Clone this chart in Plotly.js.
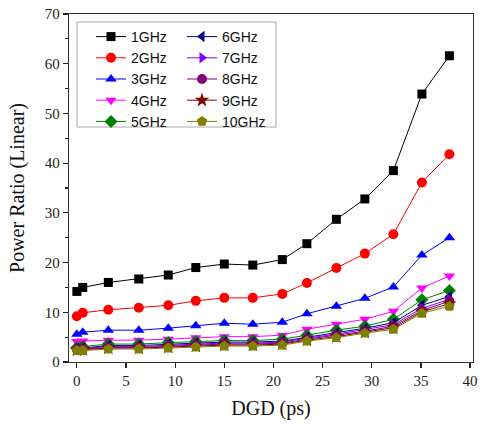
<!DOCTYPE html>
<html><head><meta charset="utf-8">
<script src="https://cdn.plot.ly/plotly-3.0.1.min.js"></script>
<style>html,body{margin:0;padding:0;background:#fff}#chart{width:480px;height:424px}</style>
</head><body><div id="chart"></div>
<script>
const dgd = [0, 0.6, 3.2, 6.3, 9.3, 12.1, 15.0, 17.9, 20.9, 23.4, 26.4, 29.3, 32.2, 35.1, 37.9];
const seriesNames = ['1GHz','2GHz','3GHz','4GHz','5GHz','6GHz','7GHz','8GHz','9GHz','10GHz'];
const s1GHz  = [14.2, 15.0, 16.0, 16.7, 17.5, 19.0, 19.7, 19.5, 20.6, 23.8, 28.7, 32.8, 38.5, 53.9, 61.6];
const s2GHz  = [9.2, 9.9, 10.5, 10.9, 11.4, 12.3, 12.9, 12.9, 13.7, 15.9, 18.9, 21.8, 25.7, 36.1, 41.8];
const s3GHz  = [5.6, 6.0, 6.4, 6.4, 6.8, 7.3, 7.8, 7.6, 8.0, 9.7, 11.2, 12.8, 15.1, 21.5, 25.0];
const s4GHz  = [4.1, 4.2, 4.4, 4.4, 4.6, 4.9, 5.1, 5.1, 5.4, 6.6, 7.6, 8.6, 10.2, 14.9, 17.3];
const s5GHz  = [2.9, 3.1, 3.6, 3.6, 3.9, 4.1, 4.3, 4.3, 4.6, 5.4, 6.4, 7.2, 8.6, 12.5, 14.4];
const s6GHz  = [2.7, 2.8, 3.3, 3.3, 3.6, 3.8, 4.0, 4.0, 4.2, 5.0, 5.9, 6.8, 7.9, 11.4, 13.2];
const s7GHz  = [2.6, 2.7, 3.1, 3.1, 3.4, 3.6, 3.8, 3.8, 4.0, 4.8, 5.6, 6.5, 7.5, 10.8, 12.6];
const s8GHz  = [2.5, 2.6, 2.9, 2.9, 3.2, 3.4, 3.6, 3.6, 3.8, 4.6, 5.4, 6.2, 7.2, 10.4, 12.2];
const s9GHz  = [2.4, 2.5, 2.8, 2.8, 3.0, 3.2, 3.4, 3.4, 3.6, 4.4, 5.1, 6.0, 6.9, 10.1, 11.7];
const s10GHz = [2.3, 2.3, 2.6, 2.6, 2.8, 3.0, 3.2, 3.2, 3.4, 4.2, 4.9, 5.8, 6.6, 9.8, 11.2];
const xTicks = [0, 5, 10, 15, 20, 25, 30, 35, 40];
const yTicks = [0, 10, 20, 30, 40, 50, 60, 70];

const allValues = [s1GHz, s2GHz, s3GHz, s4GHz, s5GHz, s6GHz, s7GHz, s8GHz, s9GHz, s10GHz];
const colors = ['#000000','#ff0000','#0000ff','#ff00ff','#008000','#000080','#8000ff','#800080','#800000','#808000'];
const symbols = ['square','circle','triangle-up','triangle-down','diamond','triangle-left','triangle-right','circle','star','pentagon'];
const sizes = [9,10,10,10,10,10,10,10,11,11];

const traces = allValues.map((v, i) => ({
  x: dgd, y: v, name: seriesNames[i], type: 'scatter', mode: 'lines+markers',
  line: {color: colors[i], width: 1},
  marker: {symbol: symbols[i], color: colors[i], size: sizes[i], line: {width: 0}},
  legend: i < 5 ? 'legend' : 'legend2'
}));

const L = 69, R = 473, T = 14, B = 362;
const px = x => (x - L) / (R - L);
const py = y => 1 - (y - T) / (B - T);
const legFont = {family: 'Liberation Sans, Arial, sans-serif', size: 14, color: '#111'};
const serif = 'Liberation Serif, Times New Roman, serif';

const layout = {
  width: 480, height: 424,
  margin: {l: L, r: 480 - R, t: T, b: 424 - B},
  paper_bgcolor: '#fff', plot_bgcolor: '#fff',
  showlegend: true,
  font: {family: serif, size: 15, color: '#222'},
  xaxis: {
    range: [-0.8, 40.3], tickvals: xTicks, ticks: 'outside', ticklen: 5, tickwidth: 1.2,
    tickcolor: '#222', showline: true, linecolor: '#333', linewidth: 1.2, mirror: true,
    showgrid: false, zeroline: false,
    tickfont: {family: serif, size: 15, color: '#222'},
    title: {text: 'DGD (ps)', font: {family: serif, size: 20, color: '#111'}, standoff: 12}
  },
  yaxis: {
    range: [0, 70], tickvals: yTicks, ticks: 'outside', ticklen: 5, tickwidth: 1.2,
    tickcolor: '#222', showline: true, linecolor: '#333', linewidth: 1.2, mirror: true,
    showgrid: false, zeroline: false,
    minor: {dtick: 5, ticks: 'outside', ticklen: 3, tickcolor: '#222', showgrid: false},
    tickfont: {family: serif, size: 15, color: '#222'},
    title: {text: 'Power Ratio (Linear)', font: {family: serif, size: 20, color: '#111'}, standoff: 14}
  },
  legend: {x: px(91), y: py(21), xanchor: 'left', yanchor: 'top', bgcolor: 'rgba(0,0,0,0)',
    borderwidth: 0, font: legFont, itemwidth: 30, tracegroupgap: 0},
  legend2: {x: px(182), y: py(21), xanchor: 'left', yanchor: 'top', bgcolor: 'rgba(0,0,0,0)',
    borderwidth: 0, font: legFont, itemwidth: 30, tracegroupgap: 0},
  shapes: [{type: 'rect', xref: 'paper', yref: 'paper', x0: px(77), x1: px(276), y0: py(127), y1: py(22),
    line: {color: '#aaa', width: 1}, fillcolor: 'rgba(0,0,0,0)', layer: 'above'}]
};

Plotly.newPlot('chart', traces, layout, {displayModeBar: false, staticPlot: true});
</script>
</body></html>
